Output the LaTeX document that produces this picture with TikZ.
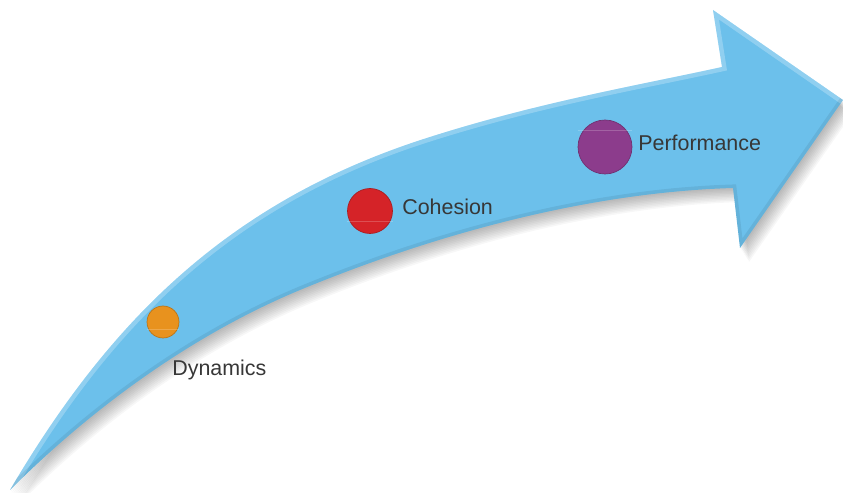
\documentclass[tikz,border=0pt]{standalone}
\usepackage{fontspec}
\setmainfont{Liberation Sans}

\definecolor{arrowblue}{RGB}{108,192,235}
\definecolor{dynorange}{RGB}{232,146,30}
\definecolor{cohred}{RGB}{213,35,40}
\definecolor{perfpurple}{RGB}{140,60,140}
\definecolor{labelgray}{RGB}{55,55,55}

% outline of the curved arrow (pixel units)
\newcommand{\trendarrow}{(10,490) .. controls (110,320) and (230,200) .. (430,137)
  .. controls (540,102) and (640,85) .. (722,67) -- (713,10) -- (843,100)
  -- (740,248) -- (733,188) .. controls (600,192) and (450,228) .. (300,290)
  .. controls (180,340) and (80,420) .. (10,490) -- cycle}

\tikzset{
  stagedot/.style={circle, inner sep=0pt, line width=0.4pt},
  stagelabel/.style={anchor=west, text=labelgray, inner sep=0pt,
    font=\fontsize{12.2}{14}\selectfont},
  gloss/.style={white, opacity=0.2, line width=0.5pt}
}

\begin{document}
\begin{tikzpicture}[x=0.02cm, y=-0.02cm]
    \useasboundingbox (0,0) rectangle (843,493);

    % Shadow
    \foreach \i in {1,...,10}
        \fill[black, opacity=0.03, shift={(0.9*\i,1.4*\i)}] \trendarrow;

    % Arrow
    \fill[arrowblue] \trendarrow;

    % Bevel
    \begin{scope}
        \clip \trendarrow;
        \draw[white, opacity=0.25, line width=5pt]
            (10,490) .. controls (110,320) and (230,200) .. (430,137)
            .. controls (540,102) and (640,85) .. (722,67) -- (713,10) -- (843,100);
        \draw[black, opacity=0.07, line width=4pt]
            (843,100) -- (740,248) -- (733,188) .. controls (600,192) and (450,228) .. (300,290)
            .. controls (180,340) and (80,420) .. (10,490);
    \end{scope}

    % Dots
    \node[stagedot, fill=dynorange, draw=dynorange!80!black, minimum size=0.64cm] (dynamicsdot) at (163,322) {};
    \node[stagedot, fill=cohred, draw=cohred!80!black, minimum size=0.9cm] (cohesiondot) at (370,211) {};
    \node[stagedot, fill=perfpurple, draw=perfpurple!80!black, minimum size=1.08cm] (performancedot) at (605,147) {};

    % Gloss lines
    \draw[gloss] ([yshift=-0.14cm]dynamicsdot.west) -- ([yshift=-0.14cm]dynamicsdot.east);
    \draw[gloss] ([yshift=-0.2cm]cohesiondot.west) -- ([yshift=-0.2cm]cohesiondot.east);
    \draw[gloss] ([yshift=0.34cm]performancedot.west) -- ([yshift=0.34cm]performancedot.east);

    % Labels
    \node[stagelabel] (dynamics) at (172,370) {Dynamics};
    \node[stagelabel] (cohesion) at (402,207) {Cohesion};
    \node[stagelabel] (performance) at (638,143) {Performance};

\end{tikzpicture}
\end{document}
